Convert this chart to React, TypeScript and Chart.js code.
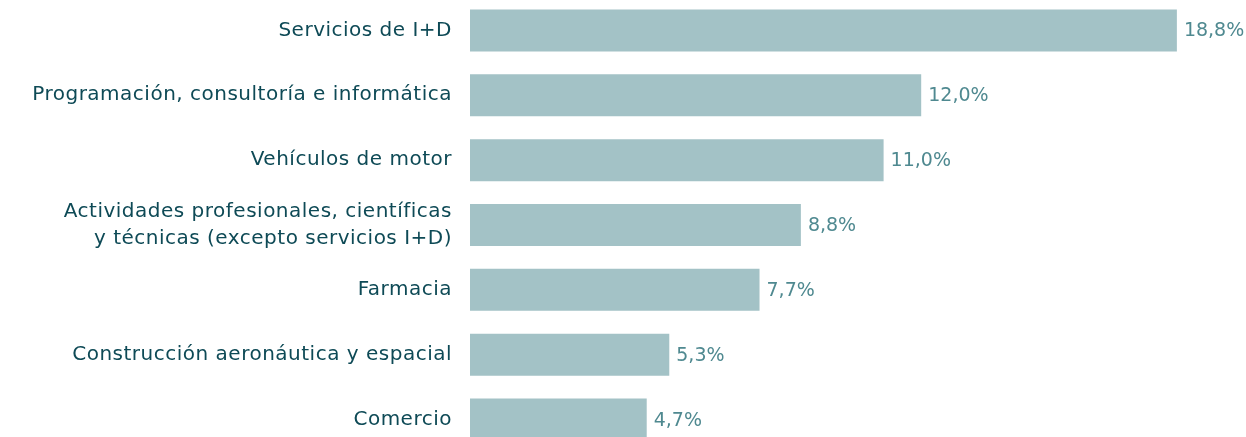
import React, { useEffect, useRef } from "react";
import { Chart, registerables } from "chart.js";

Chart.register(...registerables);

const categories: (string | string[])[] = [
  "Servicios de I+D",
  "Programación, consultoría e informática",
  "Vehículos de motor",
  ["Actividades profesionales, científicas", "y técnicas (excepto servicios I+D)"],
  "Farmacia",
  "Construcción aeronáutica y espacial",
  "Comercio",
];
const values: number[] = [18.8, 12.0, 11.0, 8.8, 7.7, 5.3, 4.7];
const valueLabels: string[] = ["18,8%", "12,0%", "11,0%", "8,8%", "7,7%", "5,3%", "4,7%"];

const FONT = "'DejaVu Sans', sans-serif";

const letterSpacingPlugin = {
  id: "letterSpacing",
  beforeDraw(chart: any) {
    chart.ctx.letterSpacing = "0.5px";
  },
};

const valueLabelPlugin = {
  id: "valueLabels",
  afterDatasetsDraw(chart: any) {
    const ctx = chart.ctx;
    const meta = chart.getDatasetMeta(0);
    ctx.save();
    ctx.letterSpacing = "0px";
    ctx.font = `19px ${FONT}`;
    ctx.fillStyle = "#4f8990";
    ctx.textAlign = "left";
    ctx.textBaseline = "middle";
    meta.data.forEach((bar: any, i: number) => {
      ctx.fillText(valueLabels[i], bar.x + 7, bar.y + 1);
    });
    ctx.restore();
  },
};

export default function App() {
  const ref = useRef<HTMLCanvasElement>(null);
  useEffect(() => {
    if (!ref.current) return;
    const chart = new Chart(ref.current, {
      type: "bar",
      data: {
        labels: categories,
        datasets: [
          {
            data: values,
            backgroundColor: "#a3c2c6",
            barPercentage: 0.648,
            categoryPercentage: 1,
          },
        ],
      },
      options: {
        indexAxis: "y",
        animation: false,
        responsive: true,
        maintainAspectRatio: false,
        layout: { padding: { top: 0, bottom: 0, left: 0, right: 24 } },
        plugins: { legend: { display: false }, tooltip: { enabled: false } },
        scales: {
          x: { display: false, min: 0, max: 20 },
          y: {
            grid: { display: false, drawTicks: false },
            border: { display: false },
            ticks: {
              padding: 18,
              color: "#0e4a56",
              font: { family: FONT, size: 20, lineHeight: 1.33 },
            },
            afterFit: (scale: any) => {
              scale.width = 470;
              scale.paddingTop = 0;
              scale.paddingBottom = 0;
            },
          },
        },
      },
      plugins: [letterSpacingPlugin, valueLabelPlugin],
    });
    return () => chart.destroy();
  }, []);
  return (
    <div style={{ position: "absolute", left: 0, top: -2.4, width: 1246, height: 454 }}>
      <canvas ref={ref} />
    </div>
  );
}
